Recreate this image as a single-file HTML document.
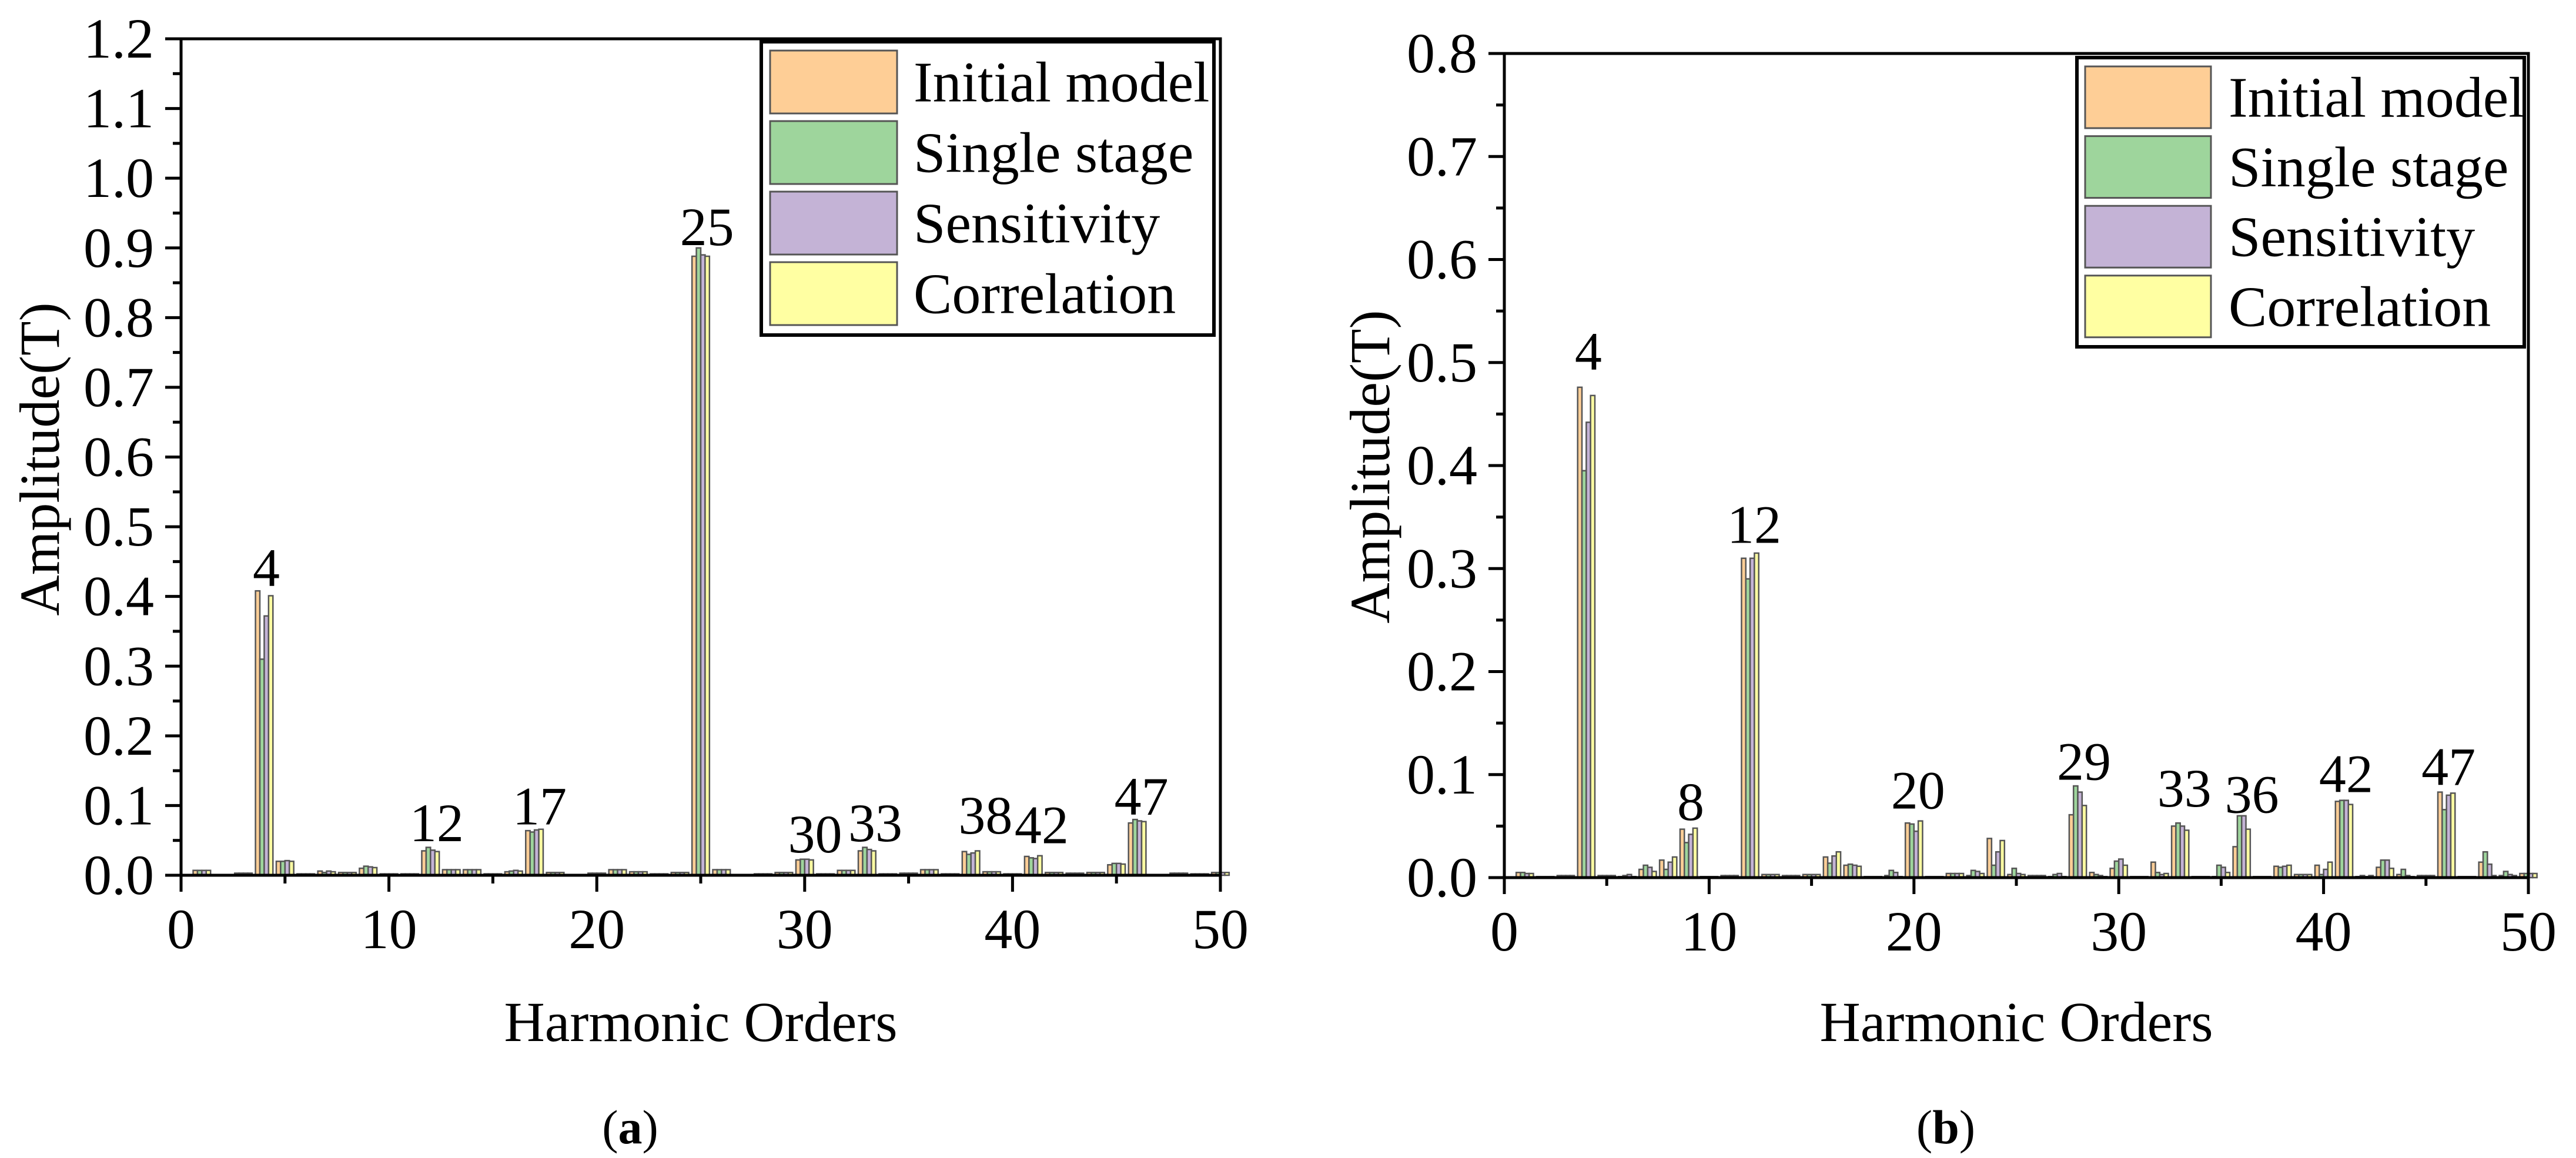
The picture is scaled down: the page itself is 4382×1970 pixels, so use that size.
<!DOCTYPE html>
<html><head><meta charset="utf-8">
<style>
html,body{margin:0;padding:0;background:#fff;}
svg{display:block;font-family:"Liberation Serif","Times New Roman","DejaVu Serif",serif;}
svg text{font-family:"Liberation Serif","Times New Roman","DejaVu Serif",serif;}
</style></head>
<body>
<svg id="fig" width="4382" height="1970" viewBox="0 0 4382 1970" xmlns="http://www.w3.org/2000/svg"></svg>
<script>
// ---------- data ----------
const orders = [1,2,3,4,5,6,7,8,9,10,11,12,13,14,15,16,17,18,19,20,21,22,23,24,25,26,27,28,29,30,31,32,33,34,35,36,37,38,39,40,41,42,43,44,45,46,47,48,49,50];
const seriesNames = ["Initial model","Single stage","Sensitivity","Correlation"];
const seriesColors = ["#FECE96","#9ED59C","#C4B3D6","#FFFFA2"];

// panel (a)
const aInitial = [0.007,0.001,0.003,0.408,0.020,0.002,0.006,0.004,0.010,0.002,0.002,0.035,0.008,0.008,0.002,0.005,0.064,0.004,0.001,0.003,0.008,0.005,0.002,0.004,0.888,0.008,0.001,0.002,0.004,0.022,0.002,0.007,0.035,0.002,0.003,0.008,0.002,0.034,0.005,0.002,0.027,0.004,0.003,0.004,0.015,0.075,0.001,0.003,0.002,0.004];
const aSingle  = [0.007,0.001,0.003,0.310,0.020,0.002,0.004,0.004,0.013,0.002,0.002,0.040,0.008,0.008,0.002,0.006,0.062,0.004,0.001,0.003,0.008,0.005,0.002,0.004,0.900,0.008,0.001,0.002,0.004,0.023,0.002,0.007,0.040,0.002,0.003,0.008,0.002,0.030,0.005,0.002,0.025,0.004,0.003,0.004,0.017,0.080,0.001,0.003,0.002,0.004];
const aSens    = [0.007,0.001,0.003,0.372,0.021,0.002,0.006,0.004,0.012,0.002,0.002,0.036,0.008,0.008,0.002,0.007,0.065,0.004,0.001,0.003,0.008,0.005,0.002,0.004,0.890,0.008,0.001,0.002,0.004,0.023,0.002,0.007,0.037,0.002,0.003,0.008,0.002,0.032,0.005,0.002,0.024,0.004,0.003,0.004,0.017,0.078,0.001,0.003,0.002,0.004];
const aCorr    = [0.007,0.001,0.003,0.401,0.020,0.002,0.005,0.004,0.011,0.002,0.002,0.034,0.008,0.008,0.002,0.006,0.066,0.004,0.001,0.003,0.008,0.005,0.002,0.004,0.888,0.008,0.001,0.002,0.004,0.022,0.002,0.007,0.035,0.002,0.003,0.008,0.002,0.035,0.005,0.002,0.028,0.004,0.003,0.004,0.016,0.077,0.001,0.003,0.002,0.004];
const aLabelText = ["4","12","17","25","30","33","38","42","47"];
const aLabelX = [4.1,12.3,17.25,25.3,30.5,33.4,38.7,41.4,46.2];
const aLabelY = [0.415,0.049,0.073,0.904,0.033,0.049,0.060,0.046,0.087];
const aYTicks = ["0.0","0.1","0.2","0.3","0.4","0.5","0.6","0.7","0.8","0.9","1.0","1.1","1.2"];

// panel (b)
const bInitial = [0.005,0.001,0.002,0.476,0.002,0.001,0.008,0.017,0.047,0.001,0.002,0.310,0.003,0.002,0.003,0.020,0.012,0.001,0.002,0.053,0.001,0.004,0.002,0.038,0.003,0.002,0.001,0.061,0.005,0.009,0.001,0.015,0.050,0.001,0.001,0.030,0.001,0.011,0.003,0.012,0.074,0.001,0.010,0.003,0.002,0.083,0.001,0.015,0.002,0.004];
const bSingle  = [0.005,0.001,0.002,0.395,0.002,0.002,0.012,0.008,0.034,0.001,0.002,0.290,0.003,0.002,0.003,0.014,0.013,0.001,0.007,0.052,0.001,0.004,0.007,0.012,0.009,0.002,0.003,0.089,0.003,0.016,0.001,0.005,0.053,0.001,0.012,0.060,0.001,0.010,0.003,0.003,0.075,0.002,0.017,0.008,0.002,0.066,0.001,0.025,0.006,0.004];
const bSens    = [0.004,0.001,0.002,0.442,0.002,0.003,0.010,0.015,0.042,0.001,0.002,0.310,0.003,0.002,0.003,0.021,0.012,0.001,0.005,0.045,0.001,0.004,0.006,0.025,0.004,0.002,0.004,0.083,0.002,0.018,0.001,0.003,0.050,0.001,0.010,0.060,0.001,0.011,0.003,0.008,0.075,0.001,0.017,0.002,0.002,0.080,0.001,0.013,0.003,0.004];
const bCorr    = [0.004,0.001,0.002,0.468,0.002,0.001,0.006,0.020,0.048,0.001,0.002,0.315,0.003,0.002,0.003,0.025,0.011,0.001,0.001,0.055,0.001,0.004,0.004,0.036,0.003,0.002,0.001,0.070,0.001,0.012,0.001,0.004,0.046,0.001,0.005,0.047,0.001,0.012,0.003,0.015,0.071,0.002,0.009,0.001,0.002,0.082,0.001,0.002,0.002,0.004];
const bLabelText = ["4","8","12","20","29","33","36","42","47"];
const bLabelX = [4.1,9.1,12.2,20.2,28.3,33.2,36.5,41.1,46.1];
const bLabelY = [0.493,0.056,0.325,0.067,0.095,0.069,0.063,0.083,0.090];
const bYTicks = ["0.0","0.1","0.2","0.3","0.4","0.5","0.6","0.7","0.8"];

const xTicks = ["0","10","20","30","40","50"];

// ---------- drawing ----------
const NS = "http://www.w3.org/2000/svg";
const FONT = '"Liberation Serif", "Times New Roman", "DejaVu Serif", serif';
const svg = document.getElementById("fig");
function mk(tag, attrs, parent){
  const e = document.createElementNS(NS, tag);
  for (const k in attrs) e.setAttribute(k, attrs[k]);
  if (tag === "text" || tag === "tspan") e.setAttribute("font-family", FONT);
  (parent||svg).appendChild(e);
  return e;
}

function panel(cfg){
  const g = mk("g", {});
  
  
  const xs = v => cfg.x0 + (v - 0) / 50 * (cfg.x1 - cfg.x0);
  const ys = v => cfg.y0 - v / cfg.ymax * (cfg.y0 - cfg.y1);
  const unit = (cfg.x1 - cfg.x0) / 50;
  const bw = unit * 0.21;

  const sets = cfg.series;
  const bars = mk("g", {}, g);
  
  
  for (let i = 0; i < orders.length; i++){
    for (let s = 0; s < 4; s++){
      const v = sets[s][i];
      const xl = xs(orders[i]) + (s - 2) * bw;
      const yt = ys(v);
      const r = mk("rect", {x: xl, y: yt, width: bw, height: Math.max(0, cfg.y0 - yt),
        fill: seriesColors[s], stroke: "#555", "stroke-width": 2.5}, bars);
      
      
    }
  }

  const fr = mk("rect", {x: cfg.x0, y: cfg.y1, width: cfg.x1 - cfg.x0, height: cfg.y0 - cfg.y1,
    fill: "none", stroke: "#000", "stroke-width": 5}, g);
  
  

  const ny = cfg.yTicks.length;
  for (let i = 0; i < ny; i++){
    const v = i * 0.1;
    const y = ys(v);
    mk("line", {x1: cfg.x0 - 27, x2: cfg.x0, y1: y, y2: y, stroke: "#000", "stroke-width": 5}, g);
    if (i < ny - 1){
      const ym = ys(v + 0.05);
      mk("line", {x1: cfg.x0 - 14, x2: cfg.x0, y1: ym, y2: ym, stroke: "#000", "stroke-width": 5}, g);
    }
    const t = mk("text", {x: cfg.x0 - 46, y: y + 32, "text-anchor": "end", "font-size": 96}, g);
    t.textContent = cfg.yTicks[i];
    
    
  }
  for (let i = 0; i < xTicks.length; i++){
    const v = i * 10;
    const x = xs(v);
    mk("line", {x1: x, x2: x, y1: cfg.y0, y2: cfg.y0 + 28, stroke: "#000", "stroke-width": 5}, g);
    if (i < xTicks.length - 1){
      const xm = xs(v + 5);
      mk("line", {x1: xm, x2: xm, y1: cfg.y0, y2: cfg.y0 + 14, stroke: "#000", "stroke-width": 5}, g);
    }
    const t = mk("text", {x: x, y: cfg.y0 + 124, "text-anchor": "middle", "font-size": 96}, g);
    t.textContent = xTicks[i];
    
    
  }

  for (let i = 0; i < cfg.lt.length; i++){
    const t = mk("text", {x: xs(cfg.lx[i]), y: ys(cfg.ly[i]), "text-anchor": "middle", "font-size": 92}, g);
    t.textContent = cfg.lt[i];
    
    
  }

  const xt = mk("text", {x: (cfg.x0 + cfg.x1) / 2, y: 1771, "text-anchor": "middle", "font-size": 96}, g);
  xt.textContent = "Harmonic Orders";
  
  
  const yt = mk("text", {x: 0, y: 0, "text-anchor": "middle", "font-size": 96,
    transform: "translate(" + cfg.ytx + "," + cfg.yty + ") rotate(-90)"}, g);
  yt.textContent = "Amplitude(T)";
  
  

  const cap = mk("text", {x: cfg.capx, y: 1945, "text-anchor": "middle", "font-size": 82}, g);
  
  
  const s1 = mk("tspan", {}, cap); s1.textContent = "(";
  const s2 = mk("tspan", {"font-weight": "bold"}, cap); s2.textContent = cfg.tag;
  const s3 = mk("tspan", {}, cap); s3.textContent = ")";

  const L = cfg.leg;
  const lg = mk("g", {}, g);
  
  
  mk("rect", {x: L.x, y: L.y, width: L.w, height: L.h, fill: "#fff", stroke: "#000", "stroke-width": 6}, lg);
  for (let s = 0; s < 4; s++){
    const ry = L.ry + s * L.step;
    const sw = mk("rect", {x: L.sx, y: ry, width: L.sw, height: L.sh, fill: seriesColors[s], stroke: "#555", "stroke-width": 3}, lg);
    
    
    const t = mk("text", {x: L.tx, y: ry + L.sh / 2 + 33, "font-size": 98}, lg);
    t.textContent = seriesNames[s];
    
    
  }
}

panel({name: "chart-a", tag: "a", x0: 308, x1: 2076, y0: 1489, y1: 66, ymax: 1.2,
  series: [aInitial, aSingle, aSens, aCorr], yTicks: aYTicks,
  lt: aLabelText, lx: aLabelX, ly: aLabelY, ytx: 100, yty: 781, capx: 1072,
  leg: {x: 1295, y: 71, w: 770, h: 499, sx: 1310, sw: 216, sh: 107, ry: 86, step: 120, tx: 1554}});

panel({name: "chart-b", tag: "b", x0: 2559, x1: 4301, y0: 1493, y1: 91, ymax: 0.8,
  series: [bInitial, bSingle, bSens, bCorr], yTicks: bYTicks,
  lt: bLabelText, lx: bLabelX, ly: bLabelY, ytx: 2363, yty: 794, capx: 3310,
  leg: {x: 3533, y: 98, w: 761, h: 492, sx: 3547, sw: 214, sh: 105, ry: 113, step: 118.6, tx: 3791}});
</script>
</body></html>
